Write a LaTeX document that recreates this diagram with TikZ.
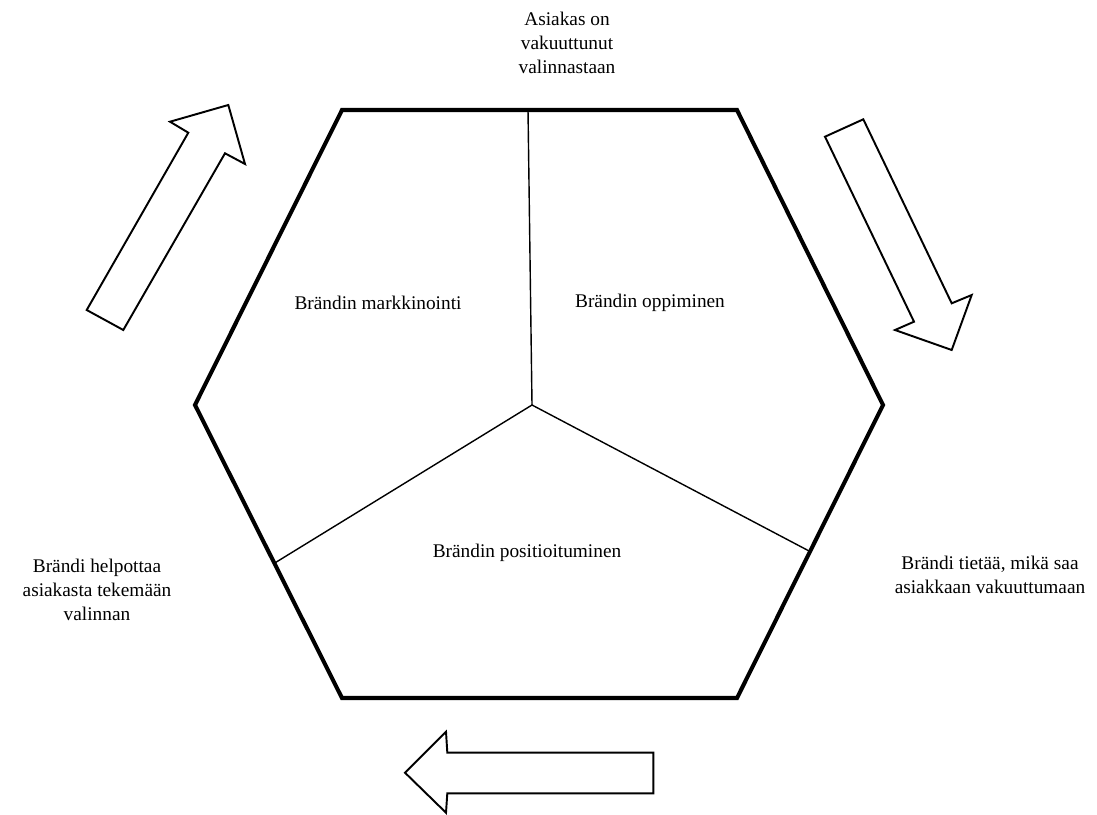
\documentclass[tikz,border=0pt]{standalone}
\usepackage{fontspec}
\setmainfont{Liberation Serif}
\usepackage{tikz}
\usetikzlibrary{calc}

\begin{document}
\begin{tikzpicture}[
  x=0.02cm, y=-0.02cm,
  hexedge/.style={line width=2.3pt, line join=miter},
  split/.style={line width=0.8pt},
  flowarrow/.style={draw=black, fill=white, line width=1.1pt, line join=miter},
  label/.style={font=\fontsize{11}{13.5}\selectfont, align=center, text=black},
]
  \useasboundingbox (0,0) rectangle (1097,814);
  % hexagon corners
  \coordinate (tl) at (342,110);
  \coordinate (tr) at (737,110);
  \coordinate (r) at (883,405);
  \coordinate (br) at (737,698);
  \coordinate (bl) at (342,698);
  \coordinate (l) at (195,405);
  \coordinate (mid) at (532,405);
  \coordinate (top) at (528,110);
  \coordinate (lcut) at ($(l)!0.54!(bl)$);
  \coordinate (rcut) at ($(r)!0.5!(br)$);
  \draw[split] (top) -- (mid);
  \draw[split] (lcut) -- (mid) -- (rcut);
  \draw[hexedge] (tl) -- (tr) -- (r) -- (br) -- (bl) -- (l) -- cycle;
  % segment labels
  \node[label] (mark) at (378,303) {Brändin markkinointi};
  \node[label] (opp) at (650,303) {Brändin oppiminen};
  \node[label] (pos) at (527,553) {Brändin positioituminen};
  % outer labels
  \node[label] (conv) at (567,43) {Asiakas on\\vakuuttunut\\valinnastaan};
  \node[label] (knows) at (990,575) {Brändi tietää, mikä saa\\asiakkaan vakuuttumaan};
  \node[label] (helps) at (97,590) {Brändi helpottaa\\asiakasta tekemään\\valinnan};
  % block arrows
  \draw[flowarrow] (86.7,310) -- (188.3,132.7) -- (170,121.7) -- (228.3,105)
    -- (245,164) -- (225,153.3) -- (123.3,330) -- cycle;
  \draw[flowarrow] (825,136.7) -- (863.3,119.3) -- (951.7,303.3) -- (971.7,295)
    -- (951.7,350) -- (895,330) -- (914,321.7) -- cycle;
  \draw[flowarrow] (653.3,752.7) -- (447.3,752.7) -- (446,731.7) -- (405,772.7)
    -- (446,812.7) -- (447.3,793.3) -- (653.3,793.3) -- cycle;
\end{tikzpicture}
\end{document}
